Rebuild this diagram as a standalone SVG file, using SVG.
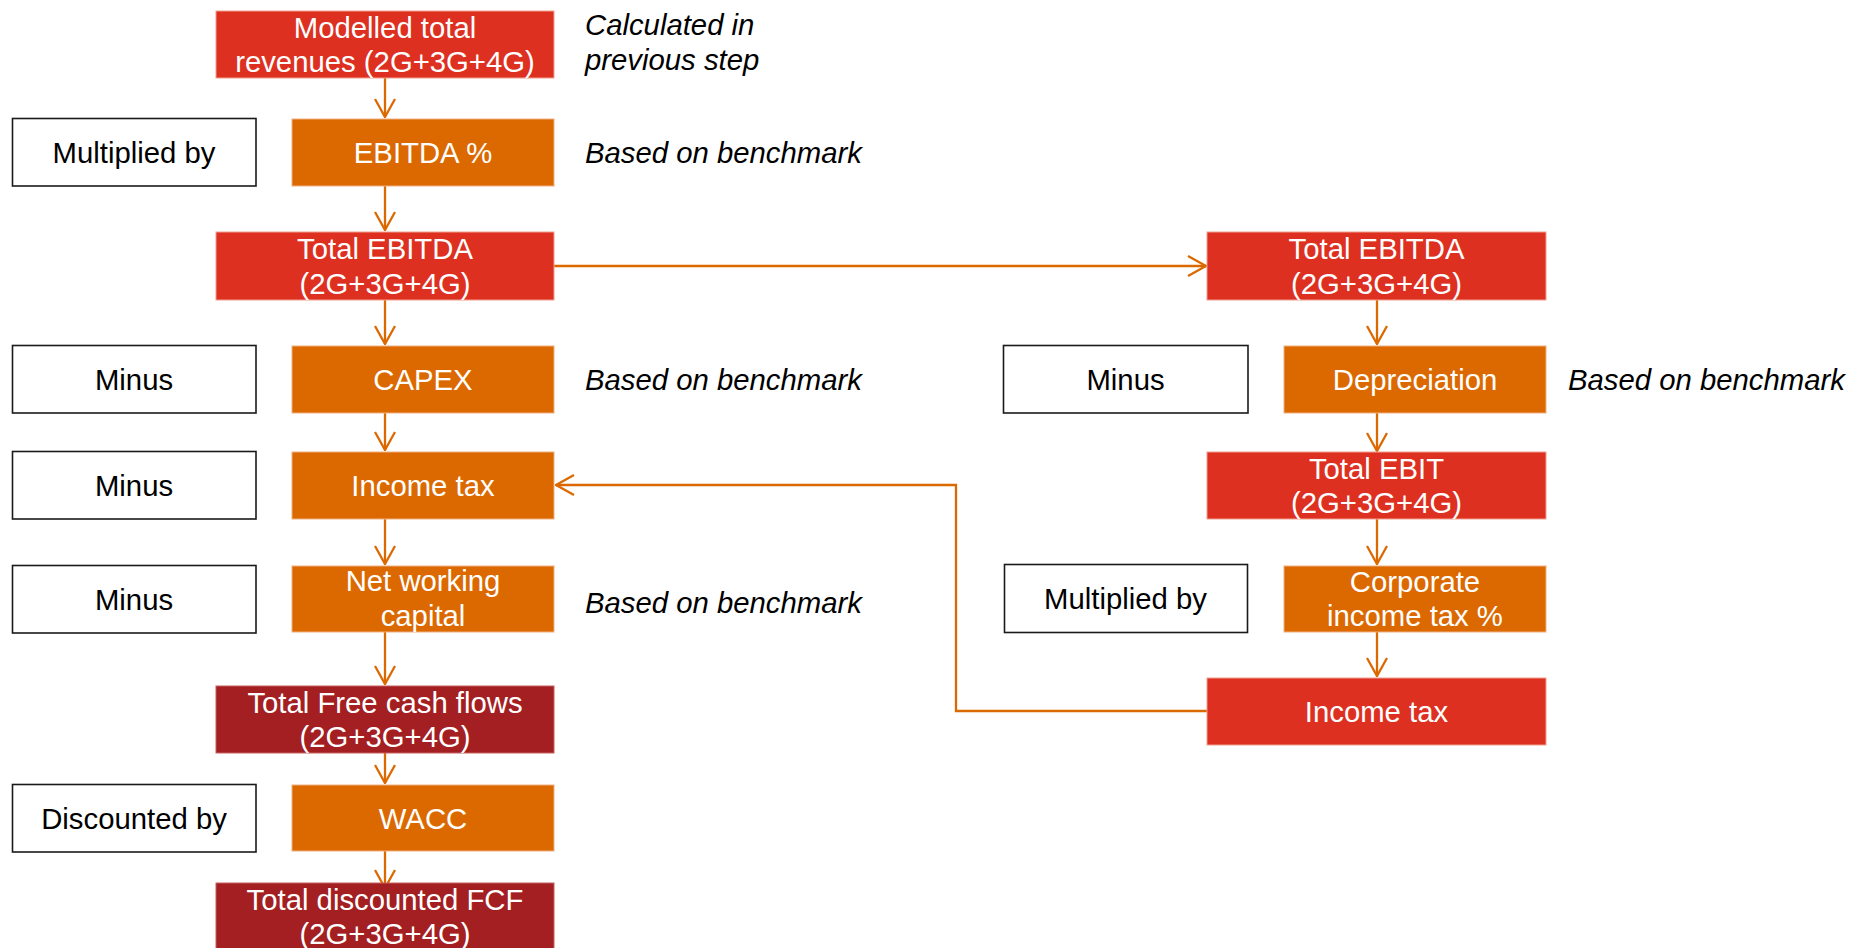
<svg xmlns="http://www.w3.org/2000/svg" width="1867" height="948" viewBox="0 0 1867 948">
  <style>
    .red { fill: #DE3020; stroke: #F2A090; stroke-width: 1; }
    .org { fill: #DC6900; stroke: #F0B080; stroke-width: 1; }
    .dark { fill: #A31F21; stroke: #C86060; stroke-width: 1; }
    .op { fill: #FFFFFF; stroke: #1A1A1A; stroke-width: 1.6; }
    .wt { font-family: "Liberation Sans", Arial, sans-serif; font-size: 29.3px; fill: #FFFFFF; text-anchor: middle; }
    .bt { font-family: "Liberation Sans", Arial, sans-serif; font-size: 29.3px; fill: #000000; text-anchor: middle; }
    .note { font-family: "Liberation Sans", Arial, sans-serif; font-size: 29.3px; font-style: italic; fill: #000000; }
    .link { fill: none; stroke: #DC6900; stroke-width: 2.3; marker-end: url(#head); }
  </style>
  <defs>
    <marker id="head" viewBox="0 0 20 22" refX="19" refY="11" markerWidth="20" markerHeight="22" markerUnits="userSpaceOnUse" orient="auto">
      <path d="M1,1 L19,11 L1,21" fill="none" stroke="#DC6900" stroke-width="2.3"/>
    </marker>
  </defs>
  <rect width="1867" height="948" fill="#FFFFFF"/>

  <!-- connectors -->
  <g id="connectors">
    <path class="link" d="M385,78 V117"/>
    <path class="link" d="M385,186 V230"/>
    <path class="link" d="M385,300 V344"/>
    <path class="link" d="M385,413 V450"/>
    <path class="link" d="M385,519 V564"/>
    <path class="link" d="M385,632 V684"/>
    <path class="link" d="M385,753 V783"/>
    <path class="link" d="M385,851 V888"/>
    <path class="link" d="M554,266 H1206"/>
    <path class="link" d="M1377,300 V344"/>
    <path class="link" d="M1377,413 V451"/>
    <path class="link" d="M1377,519 V564"/>
    <path class="link" d="M1377,632 V676"/>
    <path class="link" d="M1207,711 H956 V485 H556"/>
  </g>

  <!-- left column -->
  <g id="modelled-revenues">
    <rect class="red" x="216" y="11" width="338" height="67"/>
    <text class="wt" x="385" y="37.7">Modelled total</text>
    <text class="wt" x="385" y="72.2">revenues (2G+3G+4G)</text>
  </g>
  <g id="note-previous">
    <text class="note" x="585" y="35">Calculated in</text>
    <text class="note" x="585" y="69.5">previous step</text>
  </g>

  <g id="op-multiplied-1">
    <rect class="op" x="12.5" y="118.5" width="243.5" height="67.5"/>
    <text class="bt" x="134" y="163">Multiplied by</text>
  </g>
  <g id="ebitda-pct">
    <rect class="org" x="292" y="119" width="262" height="67"/>
    <text class="wt" x="423" y="163">EBITDA %</text>
  </g>
  <g id="note-ebitda">
    <text class="note" x="585" y="163">Based on benchmark</text>
  </g>

  <g id="total-ebitda">
    <rect class="red" x="216" y="232" width="338" height="68"/>
    <text class="wt" x="385" y="259.2">Total EBITDA</text>
    <text class="wt" x="385" y="293.7">(2G+3G+4G)</text>
  </g>

  <g id="op-minus-1">
    <rect class="op" x="12.5" y="345.5" width="243.5" height="67.5"/>
    <text class="bt" x="134" y="390">Minus</text>
  </g>
  <g id="capex">
    <rect class="org" x="292" y="346" width="262" height="67"/>
    <text class="wt" x="423" y="390">CAPEX</text>
  </g>
  <g id="note-capex">
    <text class="note" x="585" y="390">Based on benchmark</text>
  </g>

  <g id="op-minus-2">
    <rect class="op" x="12.5" y="451.5" width="243.5" height="67.5"/>
    <text class="bt" x="134" y="496">Minus</text>
  </g>
  <g id="income-tax-left">
    <rect class="org" x="292" y="452" width="262" height="67"/>
    <text class="wt" x="423" y="496">Income tax</text>
  </g>

  <g id="op-minus-3">
    <rect class="op" x="12.5" y="565.5" width="243.5" height="67.5"/>
    <text class="bt" x="134" y="610">Minus</text>
  </g>
  <g id="nwc">
    <rect class="org" x="292" y="566" width="262" height="66"/>
    <text class="wt" x="423" y="591">Net working</text>
    <text class="wt" x="423" y="625.5">capital</text>
  </g>
  <g id="note-nwc">
    <text class="note" x="585" y="612.5">Based on benchmark</text>
  </g>

  <g id="total-fcf">
    <rect class="dark" x="216" y="686" width="338" height="67"/>
    <text class="wt" x="385" y="712.7">Total Free cash flows</text>
    <text class="wt" x="385" y="747.2">(2G+3G+4G)</text>
  </g>

  <g id="op-discounted">
    <rect class="op" x="12.5" y="784.5" width="243.5" height="67.5"/>
    <text class="bt" x="134" y="829">Discounted by</text>
  </g>
  <g id="wacc">
    <rect class="org" x="292" y="785" width="262" height="66"/>
    <text class="wt" x="423" y="829">WACC</text>
  </g>

  <g id="total-discounted-fcf">
    <rect class="dark" x="216" y="883" width="338" height="70"/>
    <text class="wt" x="385" y="909.5">Total discounted FCF</text>
    <text class="wt" x="385" y="944">(2G+3G+4G)</text>
  </g>

  <!-- right column -->
  <g id="total-ebitda-right">
    <rect class="red" x="1207" y="232" width="339" height="68"/>
    <text class="wt" x="1376.5" y="259.2">Total EBITDA</text>
    <text class="wt" x="1376.5" y="293.7">(2G+3G+4G)</text>
  </g>

  <g id="op-minus-right">
    <rect class="op" x="1003.5" y="345.5" width="244.5" height="67.5"/>
    <text class="bt" x="1125.5" y="390">Minus</text>
  </g>
  <g id="depreciation">
    <rect class="org" x="1284" y="346" width="262" height="67"/>
    <text class="wt" x="1415" y="390">Depreciation</text>
  </g>
  <g id="note-depreciation">
    <text class="note" x="1568" y="390">Based on benchmark</text>
  </g>

  <g id="total-ebit">
    <rect class="red" x="1207" y="452" width="339" height="67"/>
    <text class="wt" x="1376.5" y="478.7">Total EBIT</text>
    <text class="wt" x="1376.5" y="513.2">(2G+3G+4G)</text>
  </g>

  <g id="op-multiplied-right">
    <rect class="op" x="1004.5" y="564.5" width="243" height="68"/>
    <text class="bt" x="1125.5" y="609">Multiplied by</text>
  </g>
  <g id="corporate-tax">
    <rect class="org" x="1284" y="566" width="262" height="66"/>
    <text class="wt" x="1415" y="591.7">Corporate</text>
    <text class="wt" x="1415" y="626.2">income tax %</text>
  </g>

  <g id="income-tax-right">
    <rect class="red" x="1207" y="678" width="339" height="67"/>
    <text class="wt" x="1376.5" y="722">Income tax</text>
  </g>
</svg>
